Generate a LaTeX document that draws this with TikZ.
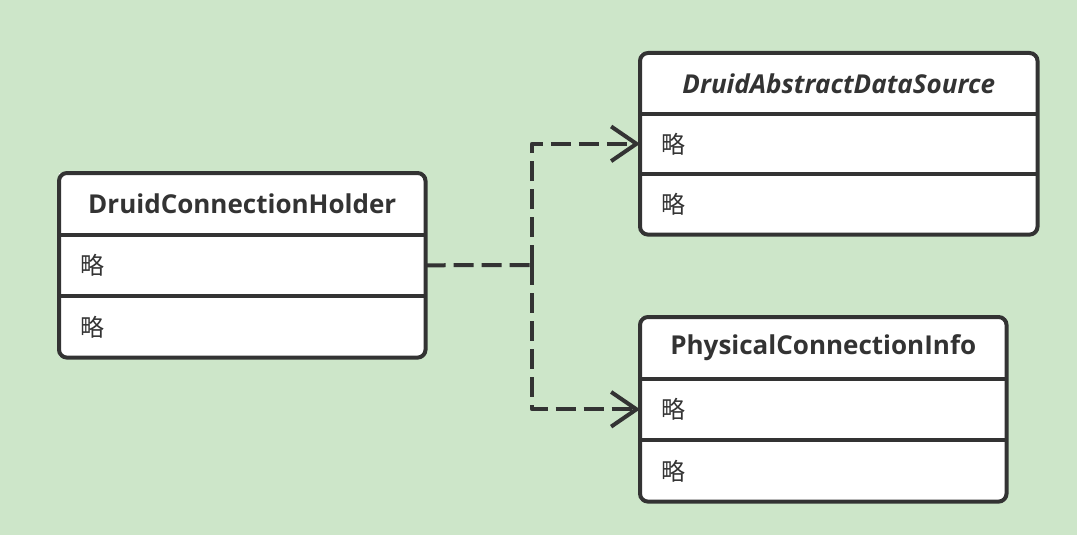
\documentclass[tikz,border=0pt]{standalone}
\usepackage{fontspec}
\setmainfont{Open Sans}
\newfontfamily\cjk{Noto Sans CJK SC}
\usetikzlibrary{positioning,arrows.meta}
\definecolor{bg}{HTML}{CDE6C9}
\definecolor{ink}{HTML}{333333}
\begin{document}
\begin{tikzpicture}[x=0.75pt, y=-0.75pt, line join=round, >={Straight Barb[length=19pt,width=26pt]},
    cell/.style={fill=white, text=ink, inner sep=0pt, minimum height=45.75pt},
    head/.style={cell, font=\fontsize{19.5}{23}\selectfont\bfseries},
    row/.style={cell, font=\cjk\fontsize{18}{20}\selectfont, align=left, inner xsep=16pt},
    frame/.style={draw=ink, line width=3pt, rounded corners=6pt},
    dep/.style={draw=ink, line width=3pt, dash pattern=on 15pt off 6pt, ->}]
  \fill[bg] (0,0) rectangle (1077,535);
  % DruidConnectionHolder
  \node[head, anchor=north west, minimum width=274.5pt] (holder) at (59,173) {DruidConnectionHolder};
  \node[row, below=0pt of holder, text width=242.5pt] (holder-a) {略};
  \node[row, below=0pt of holder-a, text width=242.5pt] (holder-b) {略};
  % DruidAbstractDataSource
  \node[head, anchor=north west, minimum width=297.75pt, minimum height=45pt] (source) at (640,53) {\itshape DruidAbstractDataSource};
  \node[row, below=0pt of source, text width=265.75pt, minimum height=45pt] (source-a) {略};
  \node[row, below=0pt of source-a, text width=265.75pt, minimum height=45pt] (source-b) {略};
  % PhysicalConnectionInfo
  \node[head, anchor=north west, minimum width=274.5pt] (info) at (640,317) {PhysicalConnectionInfo};
  \node[row, below=0pt of info, text width=242.5pt] (info-a) {略};
  \node[row, below=0pt of info-a, text width=242.5pt] (info-b) {略};
  % frames and dividers
  \foreach \c in {holder, source, info} {
    \draw[frame] (\c.north west) rectangle (\c-b.south east);
    \draw[draw=ink, line width=3pt] (\c.south west) -- (\c.south east);
    \draw[draw=ink, line width=3pt] (\c-a.south west) -- (\c-a.south east);
  }
  % dependencies
  \coordinate (fork) at (532,265);
  \draw[dep, -] (holder-a.east) -- (fork);
  \draw[dep] (fork) |- (source-a.west);
  \draw[dep] (fork) |- (info-a.west);
\end{tikzpicture}
\end{document}
